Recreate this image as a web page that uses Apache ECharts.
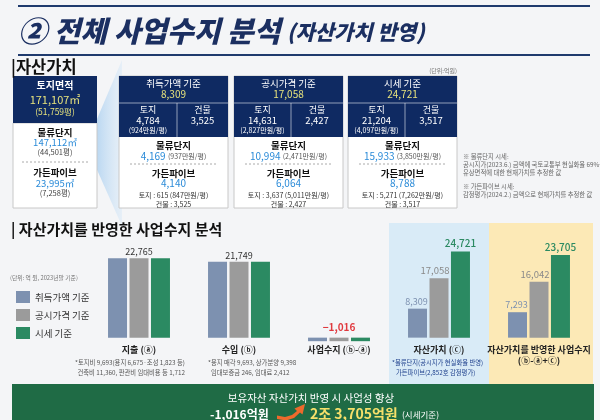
<!DOCTYPE html>
<html><head><meta charset="utf-8">
<script src="https://cdn.jsdelivr.net/npm/echarts@6/dist/echarts.min.js"></script>
<style>html,body{margin:0;padding:0;background:#f4f5f7}#c{width:600px;height:420px}</style>
</head><body><div id="c"></div><script>
const FONT = '"Noto Sans CJK KR","Noto Sans",sans-serif';

// ---- chart data ----
const categories = ['지출 (ⓐ)', '수입 (ⓑ)', '사업수지 (ⓑ-ⓐ)', '자산가치 (ⓒ)', '자산가치를 반영한 사업수지\n(ⓑ-ⓐ+ⓒ)'];
const seriesNames = ['취득가액 기준', '공시가격 기준', '시세 기준'];
const acquisitionValues = [22765, 21749, -1016, 8309, 7293];
const officialValues = [22765, 21749, -1016, 17058, 16042];
const marketValues = [22765, 21749, -1016, 24721, 23705];

// ---- card texts ----
const cardTitles = ['취득가액 기준', '공시가격 기준', '시세 기준'];
const cardTotals = ['8,309', '17,058', '24,721'];
const landValues = ['4,784', '14,631', '21,204'];
const landUnitPrices = ['(924만원/평)', '(2,827만원/평)', '(4,097만원/평)'];
const buildingValues = ['3,525', '2,427', '3,517'];
const logisticsValues = ['4,169', '10,994', '15,933'];
const logisticsUnitPrices = ['(937만원/평)', '(2,471만원/평)', '(3,850만원/평)'];
const gardenValues = ['4,140', '6,064', '8,788'];
const gardenLand = ['토지 : 615 (847만원/평)', '토지 : 3,637 (5,011만원/평)', '토지 : 5,271 (7,262만원/평)'];
const gardenBuilding = ['건물 : 3,525', '건물 : 2,427', '건물 : 3,517'];

const NAVY = '#0f2a62';
const YEL = '#e6e27c';
const BLUE = '#2b8bd8';
const C1 = '#7d91b0', C2 = '#9b9b9b', C3 = '#2b8a62';

const g = [];
function T(x, y, text, size, color, weight, align, extra) {
  const el = {type: 'text', silent: true, z: 20, style: Object.assign({
    x: x, y: y, text: text, fill: color,
    font: (weight || 'normal') + ' ' + size + 'px ' + FONT,
    textAlign: align || 'center', align: align || 'center',
    textVerticalAlign: 'middle', verticalAlign: 'middle'
  }, extra || {})};
  g.push(el);
  return el;
}
function R(x, y, w, h, fill, stroke, z) {
  g.push({type: 'rect', silent: true, z: z == null ? 5 : z, shape: {x: x, y: y, width: w, height: h},
    style: {fill: fill, stroke: stroke || null, lineWidth: stroke ? 1 : 0}});
}
function L(x1, y1, x2, y2, stroke, w, dash, z) {
  g.push({type: 'line', silent: true, z: z == null ? 8 : z, shape: {x1: x1, y1: y1, x2: x2, y2: y2},
    style: {stroke: stroke, lineWidth: w || 1, lineDash: dash || null}});
}

// title
R(18, 5, 572, 2, '#1f3a6d');
R(18, 54, 572, 2, '#1f3a6d');
T(18, 31, '{a|② 전체 사업수지 분석} {b|(자산가치 반영)}', 29, '#1b2f61', 'italic 900', 'left', {
  rich: {
    a: {fill: '#1b2f61', fontSize: 29, fontWeight: 900, fontStyle: 'italic', fontFamily: FONT},
    b: {fill: '#1b2f61', fontSize: 21, fontWeight: 900, fontStyle: 'italic', fontFamily: FONT, padding: [3, 0, 0, 0]}
  }});

// section 1
T(11, 67, '|자산가치', 16.5, '#111', 'bold', 'left', {});
T(457, 71, '(단위:억원)', 6, '#777', 'normal', 'right');

// wedge
g.push({type: 'polygon', silent: true, z: 3, shape: {points: [[86, 145], [122, 60], [122, 226]]},
  style: {fill: new echarts.graphic.LinearGradient(0, 0, 1, 0, [
    {offset: 0, color: 'rgba(150,195,235,0.9)'}, {offset: 1, color: 'rgba(205,228,248,0.35)'}])}});

// left card
R(13, 123, 84, 85, '#fff', '#c8c8c8');
R(13, 76, 84, 47, NAVY);
T(55, 85, '토지면적', 10, '#fff', 'bold');
T(55, 100, '171,107㎡', 11, YEL, 'normal');
T(55, 112, '(51,759평)', 8.5, YEL, 'normal');
T(55, 132, '물류단지', 9.5, '#111', 'bold');
T(55, 142, '147,112㎡', 9.5, BLUE, 'normal');
T(55, 152, '(44,501평)', 7.5, '#444', 'normal');
L(22, 162, 88, 162, '#aaa', 1, [2, 2]);
T(55, 172, '가든파이브', 9.5, '#111', 'bold');
T(55, 183, '23,995㎡', 9.5, BLUE, 'normal');
T(55, 193, '(7,258평)', 7.5, '#444', 'normal');

// cards
const cardX = [119, 234, 348];
const cardDiv = [177, 291, 405];
for (let i = 0; i < 3; i++) {
  const x = cardX[i], w = 109, cx = x + w / 2, d = cardDiv[i];
  R(x, 76, w, 132, '#fff', '#c8c8c8');
  R(x, 76, w, 61, NAVY, null, 6);
  L(x, 103, x + w, 103, 'rgba(255,255,255,0.55)', 1, null, 9);
  L(d, 103, d, 137, 'rgba(255,255,255,0.55)', 1, null, 9);
  T(cx, 83, cardTitles[i], 9.5, '#fff', 'normal');
  T(cx, 94, cardTotals[i], 10, YEL, 'normal');
  const lc = (x + d) / 2, rc = (d + x + w) / 2;
  T(lc, 110, '토지', 9, '#fff', 'normal');
  T(lc, 120, landValues[i], 9.5, '#fff', 'normal');
  T(lc, 130, landUnitPrices[i], 7, '#fff', 'normal');
  T(rc, 110, '건물', 9, '#fff', 'normal');
  T(rc, 120, buildingValues[i], 9.5, '#fff', 'normal');
  T(cx, 145, '물류단지', 9.5, '#111', 'bold');
  T(cx, 156, '{a|' + logisticsValues[i] + '} {b|' + logisticsUnitPrices[i] + '}', 10, BLUE, 'normal', 'center', {
    rich: {a: {fill: BLUE, fontSize: 10, fontFamily: FONT}, b: {fill: '#555', fontSize: 7, fontFamily: FONT}}});
  L(x + 11, 164, x + w - 11, 164, '#aaa', 1, [2, 2]);
  T(cx, 173, '가든파이브', 9.5, '#111', 'bold');
  T(cx, 183, gardenValues[i], 10, BLUE, 'normal');
  T(cx, 195, gardenLand[i], 7, '#333', 'normal');
  T(cx, 204, gardenBuilding[i], 7, '#333', 'normal');
}

// notes
T(463, 157, '※ 물류단지 시세:', 6.3, '#666', 'normal', 'left');
T(463, 165, '공시지가(2023.6.) 금액에 국토교통부 현실화율 69%를', 6.3, '#666', 'normal', 'left');
T(463, 173, '유상면적에 대한 현재가치를 추정한 값', 6.3, '#666', 'normal', 'left');
T(463, 187, '※ 가든파이브 시세:', 6.3, '#666', 'normal', 'left');
T(463, 195, '감정평가(2024.2.) 금액으로 현재가치를 추정한 값', 6.3, '#666', 'normal', 'left');

// section 2
T(11, 229, '| 자산가치를 반영한 사업수지 분석', 15, '#111', 'bold', 'left');
T(10, 278, '(단위: 억 원, 2023년말 기준)', 5.8, '#777', 'normal', 'left');

// panels
R(389, 223, 100, 161, '#d9ebf7', null, 0);
R(489, 223, 104, 161, '#fce9b6', null, 0);

// footnotes
T(75, 363, '*토지비 9,693(용지 6,675·조성 1,823 등)', 6.3, '#555', 'normal', 'left');
T(77.5, 373, '건축비 11,360, 판관비 임대비용 등 1,712', 6.3, '#555', 'normal', 'left');
T(208, 363, '*용지 매각 9,693, 상가분양 9,398', 6.3, '#555', 'normal', 'left');
T(211, 373, '임대보증금 246, 임대료 2,412', 6.3, '#555', 'normal', 'left');
T(392, 363, '*물류단지(공시지가 현실화율 반영)', 6.3, '#1d3f8c', 'normal', 'left');
T(396, 373, '가든파이브(2,852호 감정평가)', 6.3, '#1d3f8c', 'normal', 'left');

// banner
R(12, 384, 582, 40, '#1f6b45', null, 10);
T(311, 398, '보유자산 자산가치 반영 시 사업성 향상', 10.5, '#fff', 'normal');
T(210, 414, '-1,016억원', 12, '#fff', 'bold', 'left');
g.push({type: 'polygon', silent: true, z: 20, shape: {points: [
  [277, 415.5], [285, 417], [292, 415], [297, 411], [294.5, 408.5], [305, 404], [302.5, 414.5], [300, 412.5],
  [294, 418], [286, 420.5], [277, 419]]}, style: {fill: '#ee6a2c'}});
T(310, 414, '2조 3,705억원', 14, '#f6e06a', 'bold', 'left');
T(402, 415, '(시세기준)', 8.5, '#fff', 'normal', 'left');

const chart = echarts.init(document.getElementById('c'));
chart.setOption({
  backgroundColor: '#f4f5f7',
  animation: false,
  graphic: {elements: g},
  legend: {
    orient: 'vertical', left: 11, top: 286, itemWidth: 14, itemHeight: 12, itemGap: 6, icon: 'rect',
    textStyle: {fontSize: 9.5, color: '#333', fontFamily: FONT}, data: seriesNames
  },
  grid: {left: 89, right: 11, top: 233, height: 109},
  xAxis: {
    type: 'category', data: categories,
    axisLine: {show: false, onZero: false}, axisTick: {show: false},
    axisLabel: {interval: 0, margin: 2, fontSize: 9, fontWeight: 'bold', color: '#222', lineHeight: 11, fontFamily: FONT}
  },
  yAxis: {type: 'value', min: -1250, max: 30000, show: false, splitLine: {show: false}},
  series: [
    {name: seriesNames[0], type: 'bar', zlevel: 3, barWidth: 19, barGap: '13%', itemStyle: {color: C1},
      data: acquisitionValues,
      label: {show: true, position: 'top', distance: 3, fontSize: 9, color: C1, fontFamily: FONT, offset: [-1, 0],
        formatter: p => p.dataIndex >= 3 ? p.value.toLocaleString('en-US') : ''}},
    {name: seriesNames[1], type: 'bar', zlevel: 2, barWidth: 19, barGap: '13%', itemStyle: {color: C2},
      data: officialValues.map((v, i) => ({value: v, label: {
        color: i < 2 ? '#333' : (i === 2 ? '#e0393e' : '#8a8a8a'),
        fontSize: i < 2 ? 9 : (i === 2 ? 10 : 9.5), fontWeight: i === 2 ? 'bold' : 'normal',
        offset: i >= 3 ? [-4, 0] : [0, 0],
        distance: i < 2 ? 2 : (i === 2 ? 5 : 3)}})),
      label: {show: true, position: 'top', fontFamily: FONT,
        formatter: p => p.value.toLocaleString('en-US').replace('-', '−')}},
    {name: seriesNames[2], type: 'bar', zlevel: 1, barWidth: 19, barGap: '13%', itemStyle: {color: C3},
      data: marketValues,
      label: {show: true, position: 'top', distance: 3, fontSize: 10, color: C3, fontWeight: 500, fontFamily: FONT,
        formatter: p => p.dataIndex >= 3 ? p.value.toLocaleString('en-US') : ''}}
  ]
});
</script></body></html>
